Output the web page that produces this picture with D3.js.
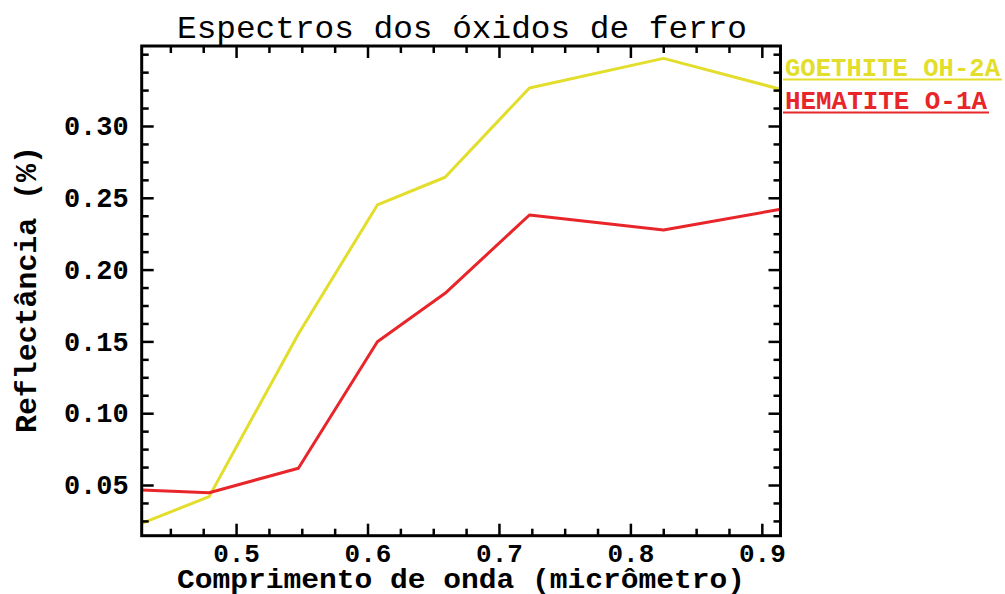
<!DOCTYPE html>
<html>
<head>
<meta charset="utf-8">
<script src="https://cdn.jsdelivr.net/npm/d3@7"></script>
<style>
  html, body { margin: 0; padding: 0; background: #fff; }
  svg { display: block; }
  text { font-family: "Liberation Mono", "DejaVu Sans Mono", monospace; }
</style>
</head>
<body>
<svg id="chart" width="1005" height="594"></svg>
<script>
// Wavelength of each band (micrometres)
const wavelengths = [0.4282, 0.4795, 0.5474, 0.6075, 0.659, 0.7232, 0.8252, 0.9142];
// Reflectance per band
const goethite = [0.0233, 0.0419, 0.1552, 0.2450, 0.2643, 0.3265, 0.3471, 0.3256];
const hematite = [0.0465, 0.0446, 0.0617, 0.1498, 0.1835, 0.2380, 0.2276, 0.2420];
const seriesNames = ["GOETHITE OH-2A", "HEMATITE O-1A"];
const seriesColors = ["#e3dd2b", "#e8262a"];

const xTicks = [0.5, 0.6, 0.7, 0.8, 0.9];
const xTickLabels = ["0.5", "0.6", "0.7", "0.8", "0.9"];
const yTicks = [0.05, 0.10, 0.15, 0.20, 0.25, 0.30];
const yTickLabels = ["0.05", "0.10", "0.15", "0.20", "0.25", "0.30"];
const yDomain = [0.0147, 0.3557];

const titleText = "Espectros dos óxidos de ferro";
const xTitle = "Comprimento de onda (micrômetro)";
const yTitle = "Reflectância (%)";

const svg = d3.select("#chart");
const plot = { left: 141.7, right: 780.5, top: 46, bottom: 535.7 };

const x = d3.scaleLinear().domain([wavelengths[0], wavelengths[wavelengths.length - 1]]).range([plot.left, plot.right]);
const y = d3.scaleLinear().domain(yDomain).range([plot.bottom, plot.top]);

const xMinor = d3.range(0.45, 0.92, 0.025).filter(v => !xTicks.some(t => Math.abs(t - v) < 1e-6) && v <= x.domain()[1]);
const yMinor = d3.range(0.025, 0.355, 0.0125).filter(v => !yTicks.some(t => Math.abs(t - v) < 1e-6) && v >= yDomain[0] && v <= yDomain[1]);

const MAJOR = 12, MINOR = 7;

function styleAxis(g) {
  g.select(".domain").remove();
  g.selectAll(".tick line").attr("stroke", "#000").attr("stroke-width", 2.5);
}

// Series lines
const line = d3.line().x((d, i) => x(wavelengths[i])).y(d => y(d));
svg.append("clipPath").attr("id", "plotclip").append("rect")
  .attr("x", plot.left).attr("y", plot.top)
  .attr("width", plot.right - plot.left).attr("height", plot.bottom - plot.top);

[goethite, hematite].forEach((vals, k) => {
  svg.append("path")
    .datum(vals)
    .attr("clip-path", "url(#plotclip)")
    .attr("fill", "none")
    .attr("stroke", seriesColors[k])
    .attr("stroke-width", 3)
    .attr("stroke-linejoin", "round")
    .attr("d", line);
});

// Bottom axis: inward ticks with labels below
svg.append("g").attr("transform", `translate(0,${plot.bottom})`)
  .call(d3.axisBottom(x).tickValues(xTicks).tickSize(-MAJOR).tickPadding(8)
    .tickFormat((d, i) => xTickLabels[i]))
  .call(styleAxis)
  .call(g => g.selectAll("text")
    .attr("fill", "#000").attr("font-size", 26).attr("font-weight", "bold"));
svg.append("g").attr("transform", `translate(0,${plot.bottom})`)
  .call(d3.axisBottom(x).tickValues(xMinor).tickSize(-MINOR).tickFormat(""))
  .call(styleAxis);

// Top axis: mirrored ticks
svg.append("g").attr("transform", `translate(0,${plot.top})`)
  .call(d3.axisTop(x).tickValues(xTicks).tickSize(-MAJOR).tickFormat(""))
  .call(styleAxis);
svg.append("g").attr("transform", `translate(0,${plot.top})`)
  .call(d3.axisTop(x).tickValues(xMinor).tickSize(-MINOR).tickFormat(""))
  .call(styleAxis);

// Left axis
svg.append("g").attr("transform", `translate(${plot.left},0)`)
  .call(d3.axisLeft(y).tickValues(yTicks).tickSize(-MAJOR).tickPadding(13)
    .tickFormat((d, i) => yTickLabels[i]))
  .call(styleAxis)
  .call(g => g.selectAll("text")
    .attr("fill", "#000").attr("font-size", 27).attr("font-weight", "bold"));
svg.append("g").attr("transform", `translate(${plot.left},0)`)
  .call(d3.axisLeft(y).tickValues(yMinor).tickSize(-MINOR).tickFormat(""))
  .call(styleAxis);

// Right axis: mirrored ticks
svg.append("g").attr("transform", `translate(${plot.right},0)`)
  .call(d3.axisRight(y).tickValues(yTicks).tickSize(-MAJOR).tickFormat(""))
  .call(styleAxis);
svg.append("g").attr("transform", `translate(${plot.right},0)`)
  .call(d3.axisRight(y).tickValues(yMinor).tickSize(-MINOR).tickFormat(""))
  .call(styleAxis);

// Frame
svg.append("rect")
  .attr("x", plot.left).attr("y", plot.top)
  .attr("width", plot.right - plot.left).attr("height", plot.bottom - plot.top)
  .attr("fill", "none").attr("stroke", "#000").attr("stroke-width", 3);

// Titles
svg.append("text")
  .attr("x", (177 + 747) / 2).attr("y", 38)
  .attr("text-anchor", "middle")
  .attr("font-size", 32).attr("fill", "#000")
  .attr("textLength", 570).attr("lengthAdjust", "spacingAndGlyphs")
  .text(titleText);

svg.append("text")
  .attr("x", (177 + 745) / 2).attr("y", 588)
  .attr("text-anchor", "middle")
  .attr("font-size", 28).attr("font-weight", "bold").attr("fill", "#000")
  .attr("textLength", 568).attr("lengthAdjust", "spacingAndGlyphs")
  .text(xTitle);

svg.append("text")
  .attr("transform", `translate(36,${(146 + 433) / 2}) rotate(-90)`)
  .attr("text-anchor", "middle")
  .attr("font-size", 29).attr("font-weight", "bold").attr("fill", "#000")
  .attr("textLength", 287).attr("lengthAdjust", "spacingAndGlyphs")
  .text(yTitle);

// Legend labels to the right of the frame
const legendY = [76, 109];
const legendW = [215, 202];
seriesNames.forEach((name, k) => {
  svg.append("text")
    .attr("x", 785).attr("y", legendY[k])
    .attr("font-size", 25).attr("font-weight", "bold")
    .attr("fill", seriesColors[k])
    .attr("textLength", legendW[k]).attr("lengthAdjust", "spacingAndGlyphs")
    .text(name);
  svg.append("line")
    .attr("x1", 783).attr("x2", 785 + legendW[k] + 2)
    .attr("y1", legendY[k] + 3.5).attr("y2", legendY[k] + 3.5)
    .attr("stroke", seriesColors[k]).attr("stroke-width", 2);
});
</script>
</body>
</html>
